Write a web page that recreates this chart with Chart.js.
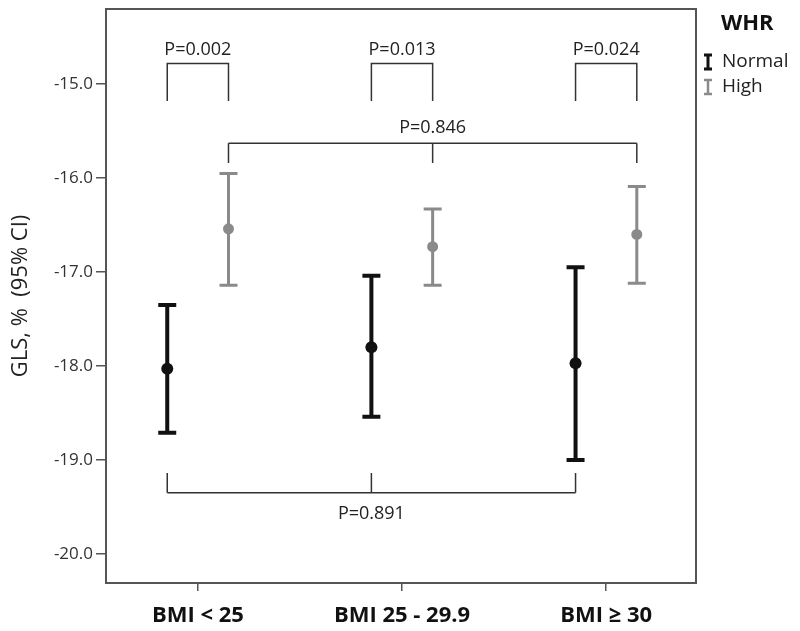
<!DOCTYPE html>
<html>
<head>
<meta charset="utf-8">
<script src="https://cdn.jsdelivr.net/npm/chart.js@4"></script>
<style>
  html, body { margin: 0; padding: 0; background: #fff; }
  #wrap { width: 800px; height: 631px; }
</style>
</head>
<body>
<div id="wrap"><canvas id="grafico" width="800" height="631"></canvas></div>
<script>
// Categorias e valores
const categorias = ["BMI < 25", "BMI 25 - 29.9", "BMI \u2265 30"];
const normalMedia = [-18.03, -17.80, -17.97];
const normalInf = [-18.71, -18.54, -19.00];
const normalSup = [-17.35, -17.04, -16.95];
const highMedia = [-16.54, -16.73, -16.60];
const highInf = [-17.14, -17.14, -17.12];
const highSup = [-15.95, -16.33, -16.09];
const yTicks = [-20, -19, -18, -17, -16, -15];
const pDentro = ["P=0.002", "P=0.013", "P=0.024"];
const pNormal = "P=0.891";
const pHigh = "P=0.846";

const corNormal = "#111111";
const corHigh = "#8a8a8a";
const desloc = 0.15;
const fonte = "'Open Sans', sans-serif";

// Barras de erro (IC 95%)
const barrasErro = {
	id: "barrasErro",
	beforeDatasetsDraw(chart) {
		const { ctx, scales } = chart;
		const series = [
			{ inf: normalInf, sup: normalSup, dx: -desloc, cor: corNormal, lw: 4 },
			{ inf: highInf, sup: highSup, dx: desloc, cor: corHigh, lw: 3 },
		];
		ctx.save();
		series.forEach((s) => {
			ctx.strokeStyle = s.cor;
			ctx.lineWidth = s.lw;
			s.inf.forEach((v, i) => {
				const x = scales.x.getPixelForValue(i + s.dx);
				const y1 = scales.y.getPixelForValue(v);
				const y2 = scales.y.getPixelForValue(s.sup[i]);
				ctx.beginPath();
				ctx.moveTo(x, y1);
				ctx.lineTo(x, y2);
				ctx.moveTo(x - 9, y1);
				ctx.lineTo(x + 9, y1);
				ctx.moveTo(x - 9, y2);
				ctx.lineTo(x + 9, y2);
				ctx.stroke();
			});
		});
		ctx.restore();
	},
};

// Colchetes com valores de P, moldura e legenda
const anotacoes = {
	id: "anotacoes",
	afterDatasetsDraw(chart) {
		const { ctx, scales, chartArea } = chart;
		const px = (v) => scales.x.getPixelForValue(v);
		const py = (v) => scales.y.getPixelForValue(v);
		ctx.save();
		ctx.strokeStyle = "#333";
		ctx.lineWidth = 1.5;
		ctx.fillStyle = "#222";
		ctx.font = "18px " + fonte;
		ctx.textAlign = "center";
		ctx.textBaseline = "middle";

		// dentro de cada grupo de IMC
		pDentro.forEach((txt, i) => {
			const x1 = px(i - desloc), x2 = px(i + desloc);
			const yT = py(-14.78), yB = py(-15.18);
			ctx.beginPath();
			ctx.moveTo(x1, yB);
			ctx.lineTo(x1, yT);
			ctx.lineTo(x2, yT);
			ctx.lineTo(x2, yB);
			ctx.stroke();
			ctx.fillText(txt, (x1 + x2) / 2, py(-14.63));
		});

		// WHR alto entre grupos
		let yL = py(-15.63), yE = py(-15.84);
		ctx.beginPath();
		[0, 1, 2].forEach((i) => {
			ctx.moveTo(px(i + desloc), yL);
			ctx.lineTo(px(i + desloc), yE);
		});
		ctx.moveTo(px(desloc), yL);
		ctx.lineTo(px(2 + desloc), yL);
		ctx.stroke();
		ctx.fillText(pHigh, px(1 + desloc), py(-15.47));

		// WHR normal entre grupos
		yL = py(-19.35);
		yE = py(-19.14);
		ctx.beginPath();
		[0, 1, 2].forEach((i) => {
			ctx.moveTo(px(i - desloc), yL);
			ctx.lineTo(px(i - desloc), yE);
		});
		ctx.moveTo(px(-desloc), yL);
		ctx.lineTo(px(2 - desloc), yL);
		ctx.stroke();
		ctx.fillText(pNormal, px(1 - desloc), py(-19.57));

		// moldura
		ctx.strokeStyle = "#555";
		ctx.lineWidth = 2;
		ctx.strokeRect(chartArea.left, chartArea.top, chartArea.right - chartArea.left, chartArea.bottom - chartArea.top);

		// legenda
		ctx.textAlign = "left";
		ctx.fillStyle = "#111";
		ctx.font = "bold 22px " + fonte;
		ctx.fillText("WHR", 721, 24);
		ctx.font = "19px " + fonte;
		[["Normal", corNormal, 3, 62], ["High", corHigh, 2.5, 87]].forEach(([txt, cor, lw, y]) => {
			ctx.strokeStyle = cor;
			ctx.lineWidth = lw;
			ctx.beginPath();
			ctx.moveTo(708, y - 7);
			ctx.lineTo(708, y + 7);
			ctx.moveTo(704, y - 7);
			ctx.lineTo(712, y - 7);
			ctx.moveTo(704, y + 7);
			ctx.lineTo(712, y + 7);
			ctx.stroke();
			ctx.fillStyle = "#222";
			ctx.fillText(txt, 722, y);
		});
		ctx.restore();
	},
};

const ctx = document.getElementById("grafico");

new Chart(ctx, {
	type: "scatter",
	data: {
		datasets: [
			{
				label: "Normal",
				data: normalMedia.map((v, i) => ({ x: i - desloc, y: v })),
				pointRadius: 6,
				pointBackgroundColor: corNormal,
				pointBorderWidth: 0,
				pointHoverRadius: 6,
			},
			{
				label: "High",
				data: highMedia.map((v, i) => ({ x: i + desloc, y: v })),
				pointRadius: 5.5,
				pointBackgroundColor: corHigh,
				pointBorderWidth: 0,
				pointHoverRadius: 5.5,
			},
		],
	},
	options: {
		responsive: false,
		animation: false,
		layout: {
			padding: { top: 9, right: 104, left: 0, bottom: 0 },
		},
		plugins: {
			legend: { display: false },
			tooltip: { enabled: false },
		},
		scales: {
			x: {
				type: "linear",
				min: -0.45,
				max: 2.44,
				afterBuildTicks: (scale) => {
					scale.ticks = categorias.map((c, i) => ({ value: i }));
				},
				afterFit: (scale) => {
					scale.height = 48;
					scale.paddingLeft = 0;
					scale.paddingRight = 0;
				},
				grid: {
					drawOnChartArea: false,
					drawTicks: true,
					tickLength: 8,
					color: "#555",
					lineWidth: 1.5,
				},
				border: { display: true, color: "#555", width: 2 },
				ticks: {
					autoSkip: false,
					maxRotation: 0,
					padding: 12,
					color: "#111",
					font: { family: fonte, size: 22, weight: "bold" },
					callback: (v) => categorias[v],
				},
			},
			y: {
				min: -20.31,
				max: -14.2,
				afterBuildTicks: (scale) => {
					scale.ticks = yTicks.map((v) => ({ value: v }));
				},
				afterFit: (scale) => {
					scale.width = 106;
					scale.paddingTop = 0;
					scale.paddingBottom = 0;
				},
				grid: {
					drawOnChartArea: false,
					drawTicks: true,
					tickLength: 10,
					color: "#555",
					lineWidth: 1.5,
				},
				border: { display: true, color: "#555", width: 2 },
				ticks: {
					padding: 3,
					color: "#333",
					font: { family: fonte, size: 17 },
					callback: (v) => v.toFixed(1),
				},
				title: {
					display: true,
					text: "GLS, %  (95% CI)",
					color: "#222",
					font: { family: fonte, size: 22 },
					padding: { top: 8, bottom: 0 },
				},
			},
		},
	},
	plugins: [barrasErro, anotacoes],
});
</script>
</body>
</html>
